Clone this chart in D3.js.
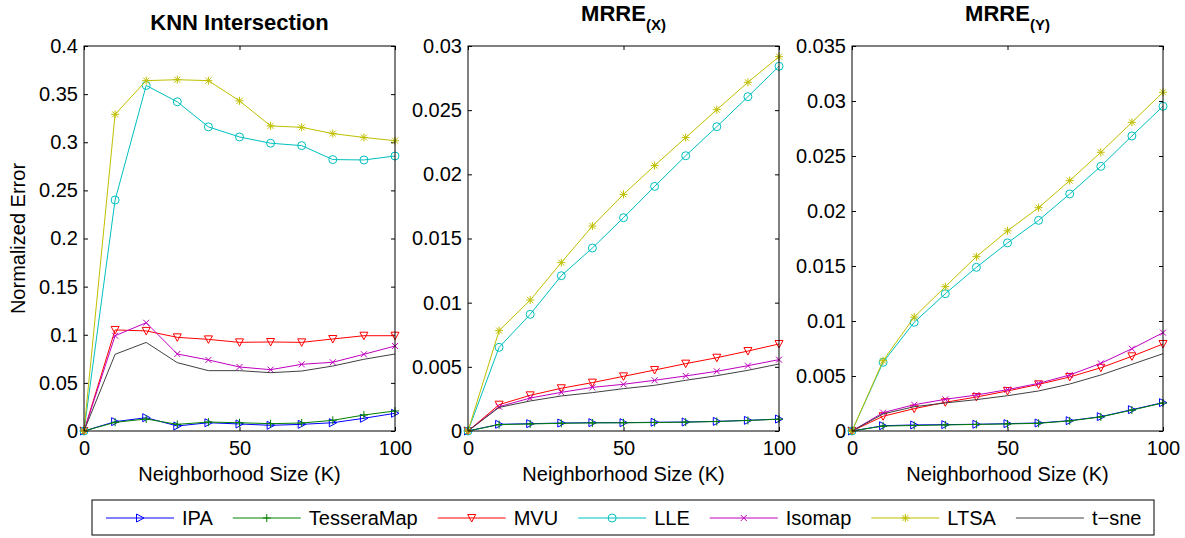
<!DOCTYPE html>
<html>
<head>
<meta charset="utf-8">
<script src="https://cdn.jsdelivr.net/npm/d3@7"></script>
<style>
  html, body { margin: 0; padding: 0; background: #fff; }
  svg { display: block; }
  text { font-family: "Liberation Sans", Arial, Helvetica, sans-serif; fill: #000; }
</style>
</head>
<body>
<svg id="chart" width="1185" height="538"></svg>
<script>
// Neighborhood sizes shared by every panel
const neighborhood = [0, 10, 20, 30, 40, 50, 60, 70, 80, 90, 100];

// KNN intersection error
const knnIPA    = [0, 0.0097, 0.0138, 0.0052, 0.0086, 0.0073, 0.0059, 0.0069, 0.0086, 0.0132, 0.0184];
const knnTessera= [0, 0.0090, 0.0125, 0.0069, 0.0093, 0.0086, 0.0076, 0.0083, 0.0111, 0.0166, 0.0208];
const knnMVU    = [0, 0.105, 0.104, 0.0973, 0.0952, 0.0921, 0.0925, 0.0921, 0.0956, 0.0990, 0.0990];
const knnLLE    = [0, 0.240, 0.359, 0.342, 0.316, 0.3055, 0.299, 0.2965, 0.282, 0.2816, 0.2857];
const knnIsomap = [0, 0.099, 0.1125, 0.080, 0.0738, 0.0665, 0.0637, 0.0693, 0.0714, 0.0797, 0.0883];
const knnLTSA   = [0, 0.329, 0.364, 0.365, 0.364, 0.343, 0.317, 0.3155, 0.309, 0.305, 0.3016];
const knnTsne   = [0, 0.0797, 0.092, 0.071, 0.0627, 0.0627, 0.0606, 0.0623, 0.0675, 0.0745, 0.080];

// MRRE in X
const mrreXIPA    = [0, 0.00052, 0.00057, 0.00062, 0.00065, 0.00065, 0.00068, 0.0007, 0.00075, 0.00083, 0.00093];
const mrreXTessera= [0, 0.0005, 0.00055, 0.0006, 0.00063, 0.00064, 0.00066, 0.00069, 0.00074, 0.00082, 0.00092];
const mrreXMVU    = [0, 0.00205, 0.00278, 0.00333, 0.00377, 0.00426, 0.00475, 0.00525, 0.00571, 0.00623, 0.00678];
const mrreXLLE    = [0, 0.00652, 0.00909, 0.0121, 0.01426, 0.01662, 0.01906, 0.02145, 0.02371, 0.02605, 0.02842];
const mrreXIsomap = [0, 0.00189, 0.00257, 0.00301, 0.0034, 0.00364, 0.00395, 0.00429, 0.00465, 0.00509, 0.00556];
const mrreXLTSA   = [0, 0.00782, 0.0102, 0.01312, 0.01597, 0.01844, 0.02068, 0.02286, 0.02504, 0.02717, 0.02917];
const mrreXTsne   = [0, 0.00184, 0.00234, 0.00273, 0.00299, 0.0033, 0.00356, 0.00395, 0.00431, 0.00473, 0.00522];

// MRRE in Y
const mrreYIPA    = [0, 0.00048, 0.00055, 0.00058, 0.00061, 0.00067, 0.00073, 0.00094, 0.0013, 0.00194, 0.00258];
const mrreYTessera= [0, 0.00045, 0.0005, 0.00055, 0.0006, 0.00064, 0.0007, 0.00092, 0.00128, 0.0019, 0.00255];
const mrreYMVU    = [0, 0.00134, 0.00203, 0.00261, 0.00309, 0.00364, 0.00424, 0.00491, 0.00575, 0.00679, 0.00791];
const mrreYLLE    = [0, 0.00625, 0.00988, 0.01248, 0.01488, 0.0171, 0.01915, 0.02155, 0.02406, 0.02682, 0.02952];
const mrreYIsomap = [0, 0.00167, 0.00239, 0.00288, 0.00327, 0.00376, 0.00433, 0.00509, 0.00615, 0.00748, 0.00894];
const mrreYLTSA   = [0, 0.00639, 0.01036, 0.01312, 0.01585, 0.0182, 0.0203, 0.02276, 0.02534, 0.02806, 0.03079];
const mrreYTsne   = [0, 0.00155, 0.00221, 0.00255, 0.00285, 0.00321, 0.00364, 0.00427, 0.00509, 0.00606, 0.00703];

// Method names, in plotting / legend order
const methods = ["IPA", "TesseraMap", "MVU", "LLE", "Isomap", "LTSA", "t\u2212sne"];

// Tick labels
const xTicks = [0, 50, 100];
const knnTicks   = [0, 0.05, 0.1, 0.15, 0.2, 0.25, 0.3, 0.35, 0.4];
const mrreXTicks = [0, 0.005, 0.01, 0.015, 0.02, 0.025, 0.03];
const mrreYTicks = [0, 0.005, 0.01, 0.015, 0.02, 0.025, 0.03, 0.035];

// Line colours and marker shapes for each method
const colors = ["#0000ff", "#008000", "#ff0000", "#00bfbf", "#bf00bf", "#bfbf00", "#404040"];
const markers = ["tri-right", "plus", "tri-down", "circle", "cross", "star", null];

const panels = [
  { title: "KNN Intersection", sub: null, ticks: knnTicks,
    series: [knnIPA, knnTessera, knnMVU, knnLLE, knnIsomap, knnLTSA, knnTsne] },
  { title: "MRRE", sub: "(X)", ticks: mrreXTicks,
    series: [mrreXIPA, mrreXTessera, mrreXMVU, mrreXLLE, mrreXIsomap, mrreXLTSA, mrreXTsne] },
  { title: "MRRE", sub: "(Y)", ticks: mrreYTicks,
    series: [mrreYIPA, mrreYTessera, mrreYMVU, mrreYLLE, mrreYIsomap, mrreYLTSA, mrreYTsne] }
];

const svg = d3.select("#chart");
const panelLeft = [84, 468, 852];
const panelWidth = 311;
const plotTop = 46, plotBottom = 431;
const tickLen = 4;
const fmt = v => String(+v.toFixed(4));

function markerPath(kind) {
  switch (kind) {
    case "tri-right": return "M-3.5,-4L4,0L-3.5,4Z";
    case "tri-down":  return "M-4,-3.5L4,-3.5L0,4Z";
    case "plus":      return "M-4,0H4M0,-4V4";
    case "cross":     return "M-3,-3L3,3M-3,3L3,-3";
    case "star":      return "M-4,0H4M0,-4V4M-3,-3L3,3M-3,3L3,-3";
    case "circle":    return "M-4,0A4,4 0 1,0 4,0A4,4 0 1,0 -4,0Z";
    default: return null;
  }
}

panels.forEach((p, pi) => {
  const x0 = panelLeft[pi];
  const x = d3.scaleLinear().domain([0, 100]).range([x0, x0 + panelWidth]);
  const yMax = p.ticks[p.ticks.length - 1];
  const y = d3.scaleLinear().domain([0, yMax]).range([plotBottom, plotTop]);
  const g = svg.append("g");

  // axes with inward ticks on all four sides
  g.append("g").attr("transform", `translate(0,${plotBottom})`)
    .call(d3.axisBottom(x).tickValues(xTicks).tickSize(-tickLen).tickPadding(10).tickFormat(fmt))
    .call(a => a.select(".domain").remove());
  g.append("g").attr("transform", `translate(0,${plotTop})`)
    .call(d3.axisTop(x).tickValues(xTicks).tickSize(-tickLen).tickFormat(""))
    .call(a => a.select(".domain").remove());
  g.append("g").attr("transform", `translate(${x0},0)`)
    .call(d3.axisLeft(y).tickValues(p.ticks).tickSize(-tickLen).tickPadding(6).tickFormat(fmt))
    .call(a => a.select(".domain").remove());
  g.append("g").attr("transform", `translate(${x0 + panelWidth},0)`)
    .call(d3.axisRight(y).tickValues(p.ticks).tickSize(-tickLen).tickFormat(""))
    .call(a => a.select(".domain").remove());
  g.selectAll(".tick text").attr("font-size", 20).attr("font-family", "Liberation Sans, Arial, sans-serif").attr("fill", "#000");
  g.selectAll(".tick line").attr("stroke", "#000");

  // series lines and markers
  p.series.forEach((vals, si) => {
    const pts = neighborhood.map((k, i) => [k, vals[i]]);
    const line = d3.line().x(d => x(d[0])).y(d => y(d[1]));
    g.append("path").datum(pts)
      .attr("d", line).attr("fill", "none")
      .attr("stroke", colors[si]).attr("stroke-width", 1);
    const mp = markerPath(markers[si]);
    if (mp) {
      g.append("g").selectAll("path").data(pts).join("path")
        .attr("d", mp)
        .attr("transform", d => `translate(${x(d[0])},${y(d[1])})`)
        .attr("fill", "none").attr("stroke", colors[si]).attr("stroke-width", 1);
    }
  });

  // axis box
  g.append("rect").attr("x", x0).attr("y", plotTop)
    .attr("width", panelWidth).attr("height", plotBottom - plotTop)
    .attr("fill", "none").attr("stroke", "#000").attr("stroke-width", 1);

  // title
  const cx = x0 + panelWidth / 2;
  if (p.sub) {
    const t = g.append("text").attr("x", cx).attr("y", 21)
      .attr("text-anchor", "middle").attr("font-weight", "bold").attr("font-size", 22);
    t.append("tspan").text(p.title);
    t.append("tspan").attr("font-size", 15).attr("dy", 9).text(p.sub);
  } else {
    g.append("text").attr("x", cx).attr("y", 30)
      .attr("text-anchor", "middle").attr("font-weight", "bold").attr("font-size", 22)
      .text(p.title);
  }

  // x axis label
  g.append("text").attr("x", cx).attr("y", 481)
    .attr("text-anchor", "middle").attr("font-size", 20)
    .text("Neighborhood Size (K)");
});

// y axis label
svg.append("text")
  .attr("transform", `translate(25,${(plotTop + plotBottom) / 2}) rotate(-90)`)
  .attr("text-anchor", "middle").attr("font-size", 20)
  .text("Normalized Error");

// legend
const legend = svg.append("g");
legend.append("rect")
  .attr("x", 92).attr("y", 500).attr("width", 1062).attr("height", 35)
  .attr("fill", "#fff").attr("stroke", "#000").attr("stroke-width", 1);
const ly = 518;
let lx = 106;
methods.forEach((name, si) => {
  legend.append("line").attr("x1", lx).attr("x2", lx + 68).attr("y1", ly).attr("y2", ly)
    .attr("stroke", colors[si]).attr("stroke-width", 1);
  const mp = markerPath(markers[si]);
  if (mp) {
    legend.append("path").attr("d", mp).attr("transform", `translate(${lx + 34},${ly})`)
      .attr("fill", "none").attr("stroke", colors[si]).attr("stroke-width", 1);
  }
  const t = legend.append("text").attr("x", lx + 76).attr("y", ly + 7)
    .attr("font-size", 20).text(name);
  lx += 76 + t.node().getComputedTextLength() + 20;
});
</script>
</body>
</html>
